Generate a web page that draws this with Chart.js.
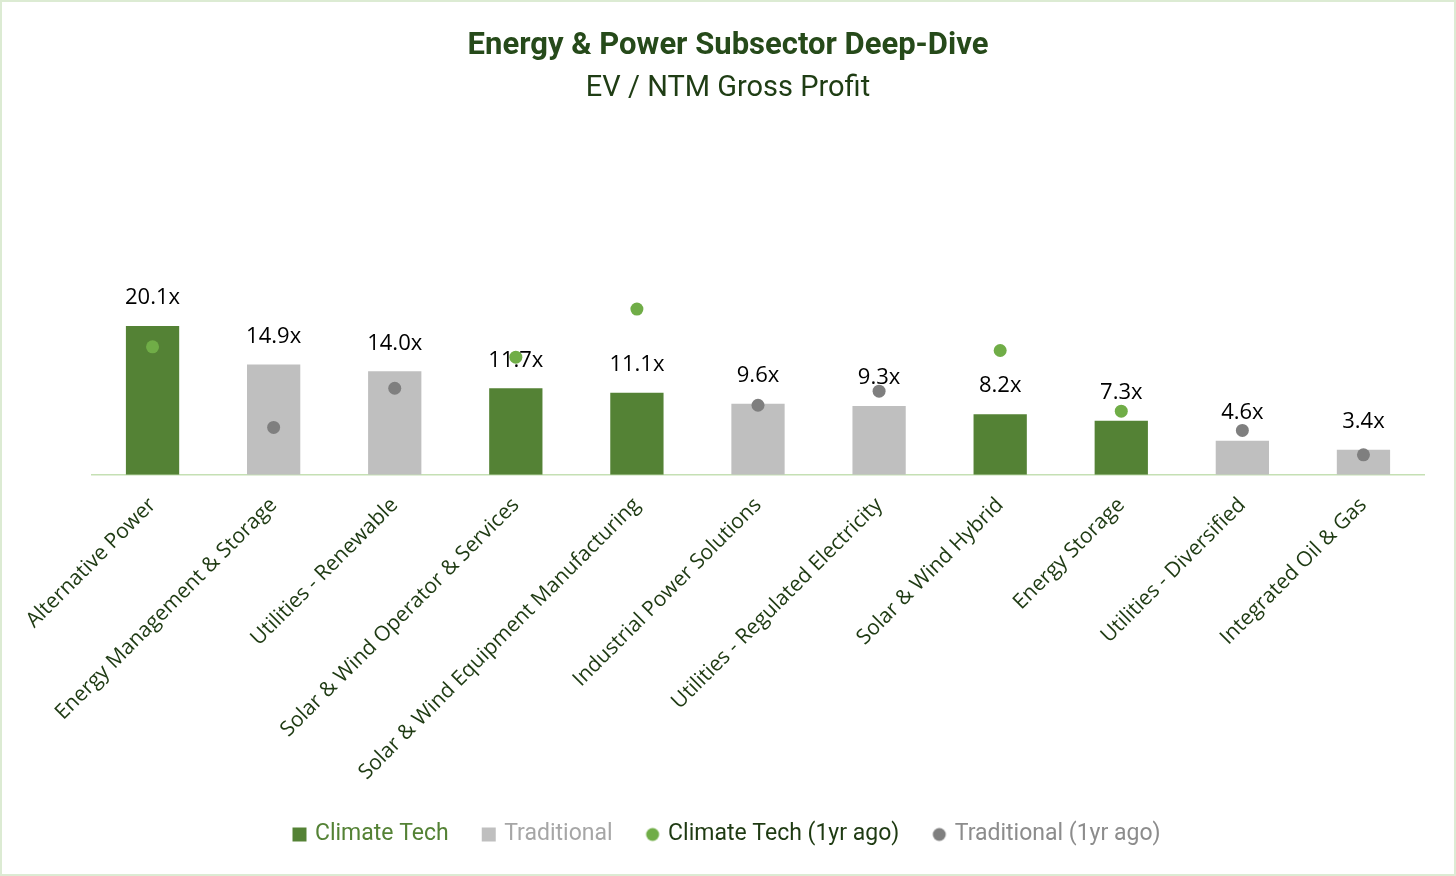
<!DOCTYPE html>
<html>
<head>
<meta charset="utf-8">
<script src="https://cdn.jsdelivr.net/npm/chart.js@4.4.1/dist/chart.umd.min.js"></script>
<style>
  html, body { margin: 0; padding: 0; background: #fff; }
  #wrap { width: 1452px; height: 872px; border: 2px solid #dcebd3; position: relative; }
  canvas { display: block; }
</style>
</head>
<body>
<div id="wrap"><canvas id="grafico1" width="1452" height="872"></canvas></div>
<script>
// Categorías y valores (EV / NTM Gross Profit)
const categories = [
    'Alternative Power', 'Energy Management & Storage', 'Utilities - Renewable',
    'Solar & Wind Operator & Services', 'Solar & Wind Equipment Manufacturing',
    'Industrial Power Solutions', 'Utilities - Regulated Electricity', 'Solar & Wind Hybrid',
    'Energy Storage', 'Utilities - Diversified', 'Integrated Oil & Gas'
];
const climateTech      = [20.1, null, null, 11.7, 11.1, null, null, 8.2, 7.3, null, null];
const traditional      = [null, 14.9, 14.0, null, null, 9.6, 9.3, null, null, 4.6, 3.4];
const climateTech1yr   = [17.3, null, null, 15.9, 22.4, null, null, 16.8, 8.6, null, null];
const traditional1yr   = [null, 6.4, 11.7, null, null, 9.4, 11.3, null, null, 6.0, 2.7];

const FONT = "'Open Sans', 'Noto Sans', sans-serif";
const TITLE_FONT = "'Liberation Sans Narrow', 'Roboto', sans-serif";

// Etiquetas de valor encima de las barras
const barLabels = {
    id: 'barLabels',
    afterDatasetsDraw(chart) {
        const ctx = chart.ctx;
        ctx.save();
        ctx.font = '22px ' + FONT;
        ctx.fillStyle = '#000';
        ctx.textAlign = 'center';
        ctx.textBaseline = 'middle';
        [0, 1].forEach(i => {
            const meta = chart.getDatasetMeta(i);
            meta.data.forEach((bar, j) => {
                const v = chart.data.datasets[i].data[j];
                if (v == null) return;
                ctx.fillText(v.toFixed(1) + 'x', bar.x, bar.y - 28);
            });
        });
        ctx.restore();
    }
};

// Marcadores de leyenda (cuadrado / círculo)
function marker(color, shape) {
    const c = document.createElement('canvas');
    c.width = 16; c.height = 16;
    const g = c.getContext('2d');
    g.fillStyle = color;
    if (shape === 'rect') {
        g.fillRect(1, 1, 14, 14);
    } else {
        g.beginPath();
        g.arc(8, 8, 6.5, 0, Math.PI * 2);
        g.fill();
    }
    return c;
}

const legendColors = ['#548235', '#a6a6a6', '#1e3a12', '#8c8c8c'];

const ctx = document.getElementById('grafico1').getContext('2d');
new Chart(ctx, {
    type: 'bar',
    data: {
        labels: categories,
        datasets: [
            { label: 'Climate Tech', data: climateTech, backgroundColor: '#548235', grouped: false, barPercentage: 0.44, categoryPercentage: 1, order: 2 },
            { label: 'Traditional', data: traditional, backgroundColor: '#bfbfbf', grouped: false, barPercentage: 0.44, categoryPercentage: 1, order: 2 },
            { type: 'line', label: 'Climate Tech (1yr ago)', data: climateTech1yr, showLine: false, pointRadius: 6.5, pointBackgroundColor: '#70ad47', pointBorderWidth: 0, backgroundColor: '#70ad47', borderColor: '#70ad47', order: 1 },
            { type: 'line', label: 'Traditional (1yr ago)', data: traditional1yr, showLine: false, pointRadius: 6.5, pointBackgroundColor: '#7f7f7f', pointBorderWidth: 0, backgroundColor: '#7f7f7f', borderColor: '#7f7f7f', order: 1 }
        ]
    },
    options: {
        responsive: false,
        animation: false,
        layout: { padding: { left: 30, right: 30, top: 10, bottom: 18 } },
        plugins: {
            title: {
                display: true,
                text: 'Energy & Power Subsector Deep-Dive',
                color: '#264a1a',
                font: { family: TITLE_FONT, size: 31, weight: 'bold' },
                padding: { top: 16, bottom: 6 }
            },
            subtitle: {
                display: true,
                text: 'EV / NTM Gross Profit',
                color: '#1f3d14',
                font: { family: TITLE_FONT, size: 29 },
                padding: { bottom: 10 }
            },
            legend: {
                position: 'bottom',
                labels: {
                    font: { family: TITLE_FONT, size: 23 },
                    usePointStyle: true,
                    boxWidth: 8,
                    boxHeight: 16,
                    padding: 36,
                    generateLabels(chart) {
                        return chart.data.datasets.map((ds, i) => ({
                            text: ds.label,
                            fillStyle: ds.backgroundColor,
                            strokeStyle: ds.backgroundColor,
                            lineWidth: 0,
                            pointStyle: marker(ds.backgroundColor, i < 2 ? 'rect' : 'circle'),
                            fontColor: legendColors[i],
                            datasetIndex: i,
                            hidden: false
                        }));
                    }
                }
            },
            tooltip: { enabled: false }
        },
        scales: {
            x: {
                grid: { display: false },
                border: { display: true, color: '#c5e0b4', width: 1.5 },
                ticks: {
                    color: '#1e3a12',
                    font: { family: FONT, size: 21 },
                    minRotation: 45,
                    maxRotation: 45,
                    autoSkip: false,
                    padding: 10
                },
                afterFit(scale) {
                    // espacio a la izquierda y ajuste de altura bajo las etiquetas
                    scale.paddingLeft = 90;
                    scale.height -= 8;
                }
            },
            y: {
                display: false,
                min: 0,
                max: 48.5
            }
        }
    },
    plugins: [barLabels]
});
</script>
</body>
</html>
